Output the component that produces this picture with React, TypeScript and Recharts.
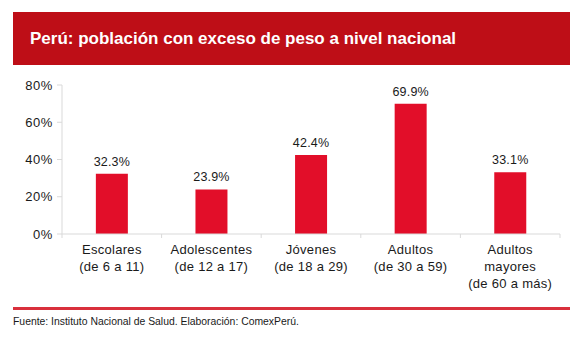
import { BarChart, Bar, XAxis, YAxis, LabelList } from 'recharts';

const categories = [
  ['Escolares', '(de 6 a 11)'],
  ['Adolescentes', '(de 12 a 17)'],
  ['Jóvenes', '(de 18 a 29)'],
  ['Adultos', '(de 30 a 59)'],
  ['Adultos', 'mayores', '(de 60 a más)'],
];
const values = [32.3, 23.9, 42.4, 69.9, 33.1];
const yTicks = [0, 20, 40, 60, 80];

const data = categories.map((lines, i) => ({ name: lines.join('|'), value: values[i] }));

const FONT = '"Liberation Sans", Arial, sans-serif';
const TEXT = '#1a1a1a';
const AXIS = '#d9d9d9';

const CategoryTick = ({ x, y, payload, index }: any) => {
  const half = 498 / categories.length / 2;
  const lines = String(payload.value).split('|');
  return (
    <g>
      <line x1={x + half} x2={x + half} y1={y - 8} y2={y - 4} stroke={AXIS} />
      {index === 0 && <line x1={x - half} x2={x - half} y1={y - 8} y2={y - 4} stroke={AXIS} />}
      <text x={x} y={y + 12} textAnchor="middle" fill={TEXT} fontSize={13} letterSpacing={0.3} fontFamily={FONT}>
        {lines.map((l: string, i: number) => (
          <tspan key={i} x={x} dy={i === 0 ? 0 : 16.8}>{l}</tspan>
        ))}
      </text>
    </g>
  );
};

export default function App() {
  return (
    <div style={{ margin: -8, position: 'relative', width: 583, height: 337, background: '#fff', fontFamily: FONT }}>
      <div style={{
        position: 'absolute', left: 13, top: 12, width: 557, height: 53,
        background: '#BE0E17', color: '#fff', fontWeight: 'bold', fontSize: 17,
        lineHeight: '53px', paddingLeft: 17, boxSizing: 'border-box',
      }}>
        Perú: población con exceso de peso a nivel nacional
      </div>
      <div style={{ position: 'absolute', left: 0, top: 0 }}>
        <BarChart width={583} height={337} data={data} margin={{ top: 85, right: 23, bottom: 43, left: 0 }} barCategoryGap="34%">
          <XAxis
            dataKey="name"
            height={60}
            stroke={AXIS}
            tickLine={false}
            interval={0}
            tick={<CategoryTick />}
          />
          <YAxis
            width={62}
            domain={[0, 80]}
            ticks={yTicks}
            stroke={AXIS}
            tickSize={5}
            tickMargin={4}
            tickFormatter={(v: number) => `${v}%`}
            tick={{ fill: TEXT, fontSize: 13, letterSpacing: 0.6, fontFamily: FONT }}
          />
          <Bar dataKey="value" fill="#E20E29" isAnimationActive={false}>
            <LabelList
              dataKey="value"
              position="top"
              offset={8}
              formatter={(v: any) => `${Number(v).toFixed(1)}%`}
              style={{ fill: TEXT, fontSize: 12.5, letterSpacing: 0.2, fontFamily: FONT }}
            />
          </Bar>
        </BarChart>
      </div>
      <div style={{ position: 'absolute', left: 13, top: 307, width: 557, height: 3, background: '#D9303C' }} />
      <div style={{ position: 'absolute', left: 13, top: 316, fontSize: 10.4, color: TEXT }}>
        Fuente: Instituto Nacional de Salud. Elaboración: ComexPerú.
      </div>
    </div>
  );
}
